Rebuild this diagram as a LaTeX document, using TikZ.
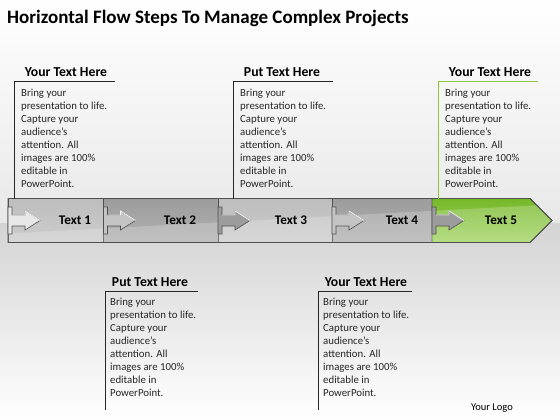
\documentclass[tikz,border=0pt]{standalone}
\usepackage{fontspec}
\setmainfont{Carlito}
\definecolor{lineDark}{HTML}{505050}
\definecolor{greenLine}{HTML}{8DC63F}
\definecolor{gA}{HTML}{BDBDBD}
\definecolor{gAb}{HTML}{CDCDCD}
\definecolor{gB}{HTML}{9C9C9C}
\definecolor{gBb}{HTML}{B2B2B2}
\definecolor{grA}{HTML}{76B82A}
\definecolor{grAb}{HTML}{A3D463}
\newcommand{\mytab}[2]{%
  \filldraw[#2,draw=lineDark,line width=0.6pt]
    (#1,207) -- (#1+4,207) -- (#1+4,215) -- (#1+17,215) -- (#1+17,211)
    -- (#1+32,220.5) -- (#1+17,230) -- (#1+17,226) -- (#1+4,226)
    -- (#1+4,234) -- (#1,234) -- cycle;
  \draw[white,line width=0.8pt] (#1+4,215) -- (#1+17,215) -- (#1+17,211) -- (#1+32,220.5);}
\tikzset{
  headtxt/.style={font=\bfseries\fontsize{13.7}{15}\selectfont,anchor=base,inner sep=0pt},
  bodytxt/.style={font=\fontsize{10.8}{12.95}\selectfont,anchor=base west,align=left,inner sep=0pt,text=black!85},
  piecetxt/.style={font=\bfseries\fontsize{13.2}{15}\selectfont,inner sep=0pt},
  boxline/.style={line width=1pt,draw=black!85},
  piece/.style={draw=lineDark,line width=0.8pt}
}
\begin{document}
\begin{tikzpicture}[x=1pt,y=-1pt]
\useasboundingbox (0,0) rectangle (560,420);
% background
\shade[top color=white,bottom color=black!9] (0,0) rectangle (560,223);
\shade[top color=black!17,bottom color=white] (0,223) rectangle (560,420);
% title
\node[anchor=base west,inner sep=0pt,font=\bfseries\fontsize{19}{21}\selectfont] (title) at (7,24) {Horizontal Flow Steps To Manage Complex Projects};
% pieces
\shade[piece,top color=gA,bottom color=gAb] (8,198.5) rectangle (103.5,242.5);
\shade[piece,top color=gB,bottom color=gBb] (103.5,198.5) rectangle (218,242.5);
\shade[piece,top color=gA,bottom color=gAb] (218,198.5) rectangle (332,242.5);
\shade[piece,top color=gB,bottom color=gBb] (332,198.5) rectangle (432,242.5);
\shade[piece,top color=grA,bottom color=grAb] (432,198.5) -- (530,198.5) -- (552,220.5) -- (530,242.5) -- (432,242.5) -- cycle;
\begin{scope}
\clip (8,198.5) -- (530,198.5) -- (552,220.5) -- (530,242.5) -- (8,242.5) -- cycle;
\fill[white,opacity=0.2] (0,234) -- (560,204) -- (560,250) -- (0,250) -- cycle;
\end{scope}
\draw[lineDark,line width=0.8pt] (8,198.5) -- (530,198.5) -- (552,220.5) -- (530,242.5) -- (8,242.5) -- cycle;
% tabs
\mytab{8}{fill=black!9}
\mytab{103.5}{fill=gA!90!white}
\mytab{218}{fill=gB}
\mytab{332}{fill=gA!90!white}
\mytab{432}{fill=gB}
% piece texts
\node[piecetxt] (t1) at (75,220.5) {Text 1};
\node[piecetxt] (t2) at (180,220.5) {Text 2};
\node[piecetxt] (t3) at (291,220.5) {Text 3};
\node[piecetxt] (t4) at (402,220.5) {Text 4};
\node[piecetxt] (t5) at (501,220.5) {Text 5};
% top boxes
\node[headtxt] (h1) at (66,76.5) {Your Text Here};
\draw[boxline] (115,81.5) -- (14.5,81.5) -- (14.5,198.5);
\node[bodytxt] (b1) at (21,187.2) {Bring your\\presentation to life.\\Capture your\\audience’s\\attention. All\\images are 100\%\\editable in\\PowerPoint.};
\node[headtxt] (h2) at (282,76.5) {Put Text Here};
\draw[boxline] (333,81.5) -- (233,81.5) -- (233,198.5);
\node[bodytxt] (b2) at (240,187.2) {Bring your\\presentation to life.\\Capture your\\audience’s\\attention. All\\images are 100\%\\editable in\\PowerPoint.};
\node[headtxt] (h3) at (490,76.5) {Your Text Here};
\draw[boxline,draw=greenLine] (538,82) -- (438,82) -- (438,198.5);
\node[bodytxt] (b3) at (445,187.2) {Bring your\\presentation to life.\\Capture your\\audience’s\\attention. All\\images are 100\%\\editable in\\PowerPoint.};
% bottom boxes
\node[headtxt] (h4) at (150,286.5) {Put Text Here};
\draw[boxline] (198,291) -- (105,291) -- (105,410);
\node[bodytxt] (b4) at (110,396.2) {Bring your\\presentation to life.\\Capture your\\audience’s\\attention. All\\images are 100\%\\editable in\\PowerPoint.};
\node[headtxt] (h5) at (366,286.5) {Your Text Here};
\draw[boxline] (412,291) -- (318,291) -- (318,410);
\node[bodytxt] (b5) at (323,396.2) {Bring your\\presentation to life.\\Capture your\\audience’s\\attention. All\\images are 100\%\\editable in\\PowerPoint.};
% logo
\node[anchor=east,inner sep=0pt,font=\fontsize{10.5}{12}\selectfont] (logo) at (513,408) {Your Logo};
\end{tikzpicture}
\end{document}
